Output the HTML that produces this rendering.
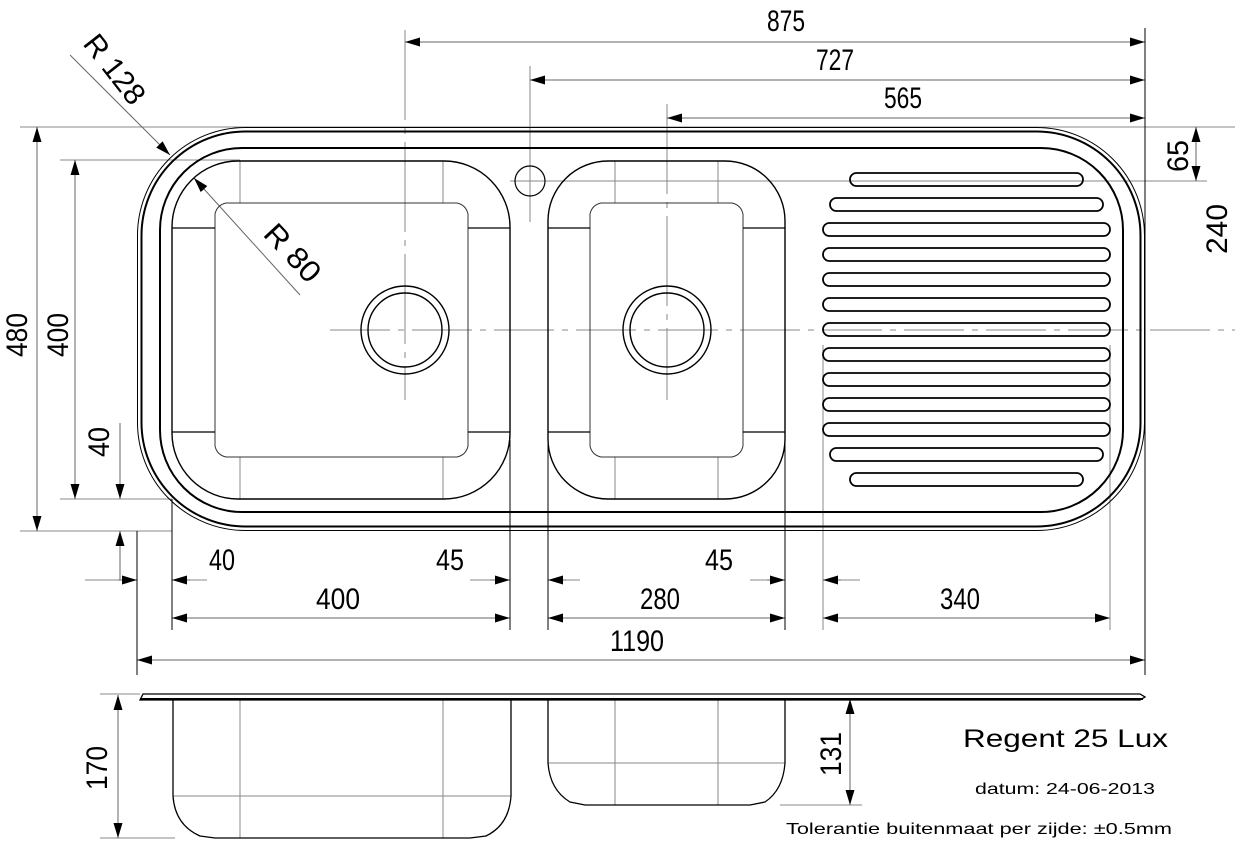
<!DOCTYPE html>
<html><head><meta charset="utf-8"><style>
html,body{margin:0;padding:0;background:#fff;}
svg{display:block}
text{font-family:"Liberation Sans",sans-serif;fill:#000}
</style></head><body>
<svg width="1235" height="844" viewBox="0 0 1235 844" xmlns="http://www.w3.org/2000/svg">
<defs>
<marker id="a" markerUnits="userSpaceOnUse" markerWidth="16" markerHeight="10" refX="15" refY="5" orient="auto-start-reverse"><path d="M0,0.5 L15,5 L0,9.5 Z" fill="#000"/></marker>
</defs>
<g stroke="#888" stroke-width="1" fill="none">
<line x1="20" y1="127" x2="1235" y2="127"/>
<line x1="60" y1="160" x2="240" y2="160"/>
<line x1="20" y1="531" x2="172" y2="531"/>
<line x1="60" y1="499" x2="172" y2="499"/>
<line x1="330" y1="330" x2="1235" y2="330" stroke-dasharray="60,8,6,8"/>
<line x1="405" y1="30" x2="405" y2="400" stroke-dasharray="90,8,6,8"/>
<line x1="530" y1="66" x2="530" y2="222"/>
<line x1="667" y1="104" x2="667" y2="400" stroke-dasharray="90,8,6,8"/>
<line x1="510" y1="181" x2="1207" y2="181"/>
<line x1="85" y1="580" x2="137" y2="580"/>
<line x1="172" y1="580" x2="207" y2="580"/>
<line x1="470" y1="580" x2="510" y2="580"/>
<line x1="548" y1="580" x2="580" y2="580"/>
<line x1="750" y1="580" x2="785" y2="580"/>
<line x1="823" y1="580" x2="860" y2="580"/>
<line x1="100" y1="838" x2="175" y2="838"/>
<line x1="780" y1="805" x2="862" y2="805"/>
<line x1="100" y1="694" x2="140" y2="694"/>
<line x1="240" y1="161" x2="240" y2="203"/><line x1="443" y1="161" x2="443" y2="203"/>
<line x1="240" y1="457" x2="240" y2="499"/><line x1="443" y1="457" x2="443" y2="499"/>
<line x1="615" y1="161" x2="615" y2="203"/><line x1="718" y1="161" x2="718" y2="203"/>
<line x1="615" y1="457" x2="615" y2="499"/><line x1="718" y1="457" x2="718" y2="499"/>
<line x1="240" y1="699" x2="240" y2="838"/><line x1="443" y1="699" x2="443" y2="838"/>
<line x1="173" y1="796" x2="511" y2="796"/>
<line x1="615" y1="699" x2="615" y2="805"/><line x1="718" y1="699" x2="718" y2="805"/>
<line x1="548" y1="763" x2="785" y2="763"/>
<line x1="823" y1="345" x2="823" y2="630"/><line x1="1110" y1="345" x2="1110" y2="630"/>
</g>
<g stroke="#666" stroke-width="1" fill="none">
<line x1="405" y1="42" x2="1145" y2="42" marker-start="url(#a)" marker-end="url(#a)"/>
<line x1="530" y1="80" x2="1145" y2="80" marker-start="url(#a)" marker-end="url(#a)"/>
<line x1="667" y1="118" x2="1145" y2="118" marker-start="url(#a)" marker-end="url(#a)"/>
<line x1="37" y1="127" x2="37" y2="531" marker-start="url(#a)" marker-end="url(#a)"/>
<line x1="75" y1="160" x2="75" y2="499" marker-start="url(#a)" marker-end="url(#a)"/>
<line x1="120" y1="423" x2="120" y2="499" marker-end="url(#a)"/>
<line x1="120" y1="580" x2="120" y2="531" marker-end="url(#a)"/>
<line x1="118" y1="580" x2="137" y2="580" marker-end="url(#a)"/>
<line x1="190" y1="580" x2="172" y2="580" marker-end="url(#a)"/>
<line x1="490" y1="580" x2="510" y2="580" marker-end="url(#a)"/>
<line x1="566" y1="580" x2="548" y2="580" marker-end="url(#a)"/>
<line x1="767" y1="580" x2="785" y2="580" marker-end="url(#a)"/>
<line x1="841" y1="580" x2="823" y2="580" marker-end="url(#a)"/>
<line x1="172" y1="618" x2="510" y2="618" marker-start="url(#a)" marker-end="url(#a)"/>
<line x1="548" y1="618" x2="785" y2="618" marker-start="url(#a)" marker-end="url(#a)"/>
<line x1="823" y1="618" x2="1110" y2="618" marker-start="url(#a)" marker-end="url(#a)"/>
<line x1="137" y1="660" x2="1145" y2="660" marker-start="url(#a)" marker-end="url(#a)"/>
<line x1="1196" y1="127" x2="1196" y2="181" marker-start="url(#a)" marker-end="url(#a)"/>
<line x1="118" y1="695" x2="118" y2="838" marker-start="url(#a)" marker-end="url(#a)"/>
<line x1="850" y1="699" x2="850" y2="805" marker-start="url(#a)" marker-end="url(#a)"/>
<line x1="70" y1="55" x2="170" y2="155" marker-end="url(#a)"/>
<line x1="300" y1="295" x2="194" y2="178" marker-end="url(#a)"/>
</g>
<g stroke="#000" stroke-width="1" fill="none">
<line x1="1145" y1="28" x2="1145" y2="675"/>
<line x1="137" y1="531" x2="137" y2="675"/>
<line x1="172" y1="499" x2="172" y2="630"/>
<line x1="510" y1="440" x2="510" y2="630"/>
<line x1="548" y1="440" x2="548" y2="630"/>
<line x1="785" y1="440" x2="785" y2="630"/>
</g>
<g fill="none" stroke="#000">
<rect x="137.5" y="127.5" width="1007" height="403" rx="108" stroke-width="1"/>
<rect x="141.5" y="131.5" width="999" height="395" rx="104" stroke-width="2"/>
<rect x="160" y="148" width="963" height="364" rx="82" stroke-width="2"/>
<rect x="172" y="161" width="338" height="338" rx="66" stroke-width="1.4"/>
<path d="M226,203 H457 Q466,205 468,214 V446 Q466,455 457,457 H226 Q217,455 215,446 V214 Q217,205 226,203 Z" stroke-width="1" stroke="#333"/>
<rect x="548" y="161" width="237" height="338" rx="60" stroke-width="1.4"/>
<path d="M601,203 H732 Q741,205 743,214 V446 Q741,455 732,457 H601 Q592,455 590,446 V214 Q592,205 601,203 Z" stroke-width="1" stroke="#333"/>
<g stroke-width="1.3">
<line x1="172" y1="228" x2="215" y2="228"/><line x1="468" y1="228" x2="510" y2="228"/>
<line x1="172" y1="432" x2="215" y2="432"/><line x1="468" y1="432" x2="510" y2="432"/>
<line x1="548" y1="228" x2="590" y2="228"/><line x1="743" y1="228" x2="785" y2="228"/>
<line x1="548" y1="432" x2="590" y2="432"/><line x1="743" y1="432" x2="785" y2="432"/>
</g>
<circle cx="405" cy="330" r="44" stroke-width="1.4"/>
<circle cx="405" cy="330" r="37" stroke-width="1.4"/>
<circle cx="667" cy="330" r="44" stroke-width="1.4"/>
<circle cx="667" cy="330" r="37" stroke-width="1.4"/>
<circle cx="530" cy="181" r="15" stroke-width="1.2"/>
<g stroke-width="1.8">
<rect x="850" y="173" width="233" height="13" rx="6.5"/>
<rect x="830" y="198" width="273" height="13" rx="6.5"/>
<rect x="823" y="223" width="287" height="13" rx="6.5"/>
<rect x="823" y="248" width="287" height="13" rx="6.5"/>
<rect x="823" y="273" width="287" height="13" rx="6.5"/>
<rect x="823" y="298" width="287" height="13" rx="6.5"/>
<rect x="823" y="323" width="287" height="13" rx="6.5"/>
<rect x="823" y="348" width="287" height="13" rx="6.5"/>
<rect x="823" y="373" width="287" height="13" rx="6.5"/>
<rect x="823" y="398" width="287" height="13" rx="6.5"/>
<rect x="823" y="423" width="287" height="13" rx="6.5"/>
<rect x="830" y="448" width="273" height="13" rx="6.5"/>
<rect x="850" y="473" width="233" height="13" rx="6.5"/>
</g>
<path d="M143,694 H1140 L1145,697 L1140,700 H140 Z" stroke-width="1.3"/>
<line x1="140" y1="699" x2="1143" y2="699" stroke-width="2"/>
<path d="M173,699 V796 Q175,825 200,836 L215,838 H470 L486,836 Q509,825 511,796 V699" stroke-width="1.3"/>
<path d="M548,699 V763 Q550,790 570,802 L585,805 H750 L765,802 Q783,790 785,763 V699" stroke-width="1.3"/>
</g>
<g font-size="30">
<text x="767" y="31" textLength="38" lengthAdjust="spacingAndGlyphs">875</text>
<text x="816" y="70" textLength="38" lengthAdjust="spacingAndGlyphs">727</text>
<text x="884" y="108" textLength="38" lengthAdjust="spacingAndGlyphs">565</text>
<text x="209" y="570" textLength="26" lengthAdjust="spacingAndGlyphs">40</text>
<text x="436" y="570" textLength="28" lengthAdjust="spacingAndGlyphs">45</text>
<text x="705" y="570" textLength="28" lengthAdjust="spacingAndGlyphs">45</text>
<text x="316" y="609" textLength="44" lengthAdjust="spacingAndGlyphs">400</text>
<text x="640" y="609" textLength="40" lengthAdjust="spacingAndGlyphs">280</text>
<text x="940" y="609" textLength="40" lengthAdjust="spacingAndGlyphs">340</text>
<text x="610" y="651" textLength="54" lengthAdjust="spacingAndGlyphs">1190</text>
<text transform="translate(27,357) rotate(-90)" textLength="44" lengthAdjust="spacingAndGlyphs">480</text>
<text transform="translate(68,357) rotate(-90)" textLength="44" lengthAdjust="spacingAndGlyphs">400</text>
<text transform="translate(109,457) rotate(-90)" textLength="30" lengthAdjust="spacingAndGlyphs">40</text>
<text transform="translate(107,790) rotate(-90)" textLength="44" lengthAdjust="spacingAndGlyphs">170</text>
<text transform="translate(841,776) rotate(-90)" textLength="44" lengthAdjust="spacingAndGlyphs">131</text>
<text transform="translate(1188,172) rotate(-90)" textLength="32" lengthAdjust="spacingAndGlyphs">65</text>
<text transform="translate(1227,254) rotate(-90)" textLength="50" lengthAdjust="spacingAndGlyphs">240</text>
<text transform="translate(82,44) rotate(52)" textLength="80" lengthAdjust="spacingAndGlyphs">R 128</text>
<text transform="translate(262,235) rotate(47)" textLength="68" lengthAdjust="spacingAndGlyphs">R 80</text>
</g>
<text x="963" y="747" font-size="25" textLength="205" lengthAdjust="spacingAndGlyphs">Regent 25 Lux</text>
<text x="975" y="794" font-size="16" textLength="180" lengthAdjust="spacingAndGlyphs">datum: 24-06-2013</text>
<text x="786" y="834" font-size="16" textLength="386" lengthAdjust="spacingAndGlyphs">Tolerantie buitenmaat per zijde: ±0.5mm</text>
</svg>
</body></html>
